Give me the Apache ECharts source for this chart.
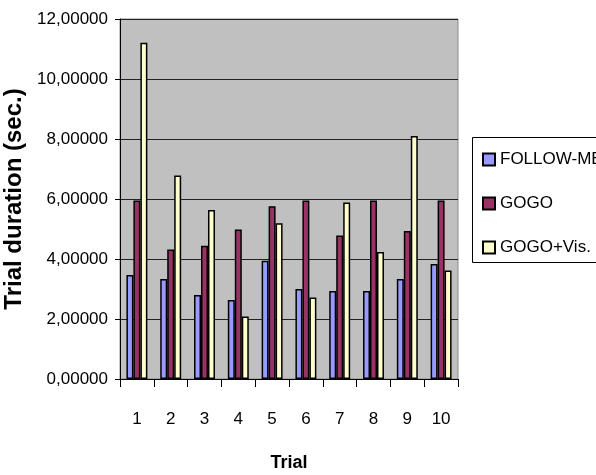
<!DOCTYPE html>
<html>
<head>
<meta charset="utf-8">
<script src="https://cdn.jsdelivr.net/npm/echarts@6/dist/echarts.min.js"></script>
<style>
  html, body { margin: 0; padding: 0; background: #ffffff; }
  #chart { width: 596px; height: 475px; }
</style>
</head>
<body>
<div id="chart"></div>
<script>
const categories = ['1', '2', '3', '4', '5', '6', '7', '8', '9', '10'];
const followMe = [3.47, 3.33, 2.80, 2.63, 3.94, 3.00, 2.93, 2.93, 3.33, 3.83];
const gogo = [5.95, 4.32, 4.44, 4.98, 5.76, 5.95, 4.78, 5.95, 4.93, 5.95];
const gogoVis = [11.21, 6.78, 5.63, 2.08, 5.19, 2.72, 5.88, 4.23, 8.10, 3.62];
const seriesNames = ['FOLLOW-ME', 'GOGO', 'GOGO+Vis.'];
const seriesColors = ['#9999ff', '#993366', '#ffffcc'];

const font = "'Liberation Sans', Arial, sans-serif";

const chart = echarts.init(document.getElementById('chart'), null, { renderer: 'canvas' });

function fmt(v) { return v.toFixed(5).replace('.', ','); }

const dataSets = [followMe, gogo, gogoVis];

chart.setOption({
  animation: false,
  backgroundColor: '#ffffff',
  grid: {
    left: 120, right: 138, top: 19, bottom: 96,
    outerBoundsMode: 'none',
    containLabel: false,
    show: true, backgroundColor: '#c0c0c0', borderColor: '#8c8c8c', borderWidth: 1
  },
  legend: {
    orient: 'vertical',
    left: 477, top: 146,
    itemWidth: 12, itemHeight: 12, itemGap: 27,
    icon: 'rect',
    textStyle: { fontFamily: font, fontSize: 17, color: '#000' },
    data: seriesNames
  },
  graphic: [{
    type: 'rect', left: 472, top: 137, z: -1,
    shape: { width: 130, height: 125 },
    style: { fill: '#ffffff', stroke: '#000000', lineWidth: 1 }
  }],
  xAxis: {
    type: 'category',
    data: categories,
    name: 'Trial',
    nameLocation: 'middle',
    nameGap: 75,
    nameTextStyle: { fontFamily: font, fontSize: 18, fontWeight: 'bold', color: '#000' },
    axisLine: { lineStyle: { color: '#000', width: 1 } },
    axisTick: { show: true, length: 8, lineStyle: { color: '#000' } },
    axisLabel: { fontFamily: font, fontSize: 17, color: '#000', margin: 32 }
  },
  yAxis: {
    type: 'value',
    min: 0, max: 12, interval: 2,
    name: 'Trial duration (sec.)',
    nameLocation: 'middle',
    nameGap: 88,
    nameTextStyle: { fontFamily: font, fontSize: 24, fontWeight: 'bold', color: '#000' },
    axisLine: { show: true, lineStyle: { color: '#000', width: 1 } },
    axisTick: { show: true, length: 5, lineStyle: { color: '#000' } },
    axisLabel: { fontFamily: font, fontSize: 17, color: '#000', margin: 12, formatter: fmt },
    splitLine: { show: true, lineStyle: { color: '#222', width: 1 } }
  },
  series: seriesNames.map((n, i) => ({
    name: n,
    type: 'bar',
    data: dataSets[i],
    barGap: '0%',
    barCategoryGap: '38%',
    itemStyle: { color: seriesColors[i], borderColor: '#000', borderWidth: 1.5 }
  }))
});
</script>
</body>
</html>
